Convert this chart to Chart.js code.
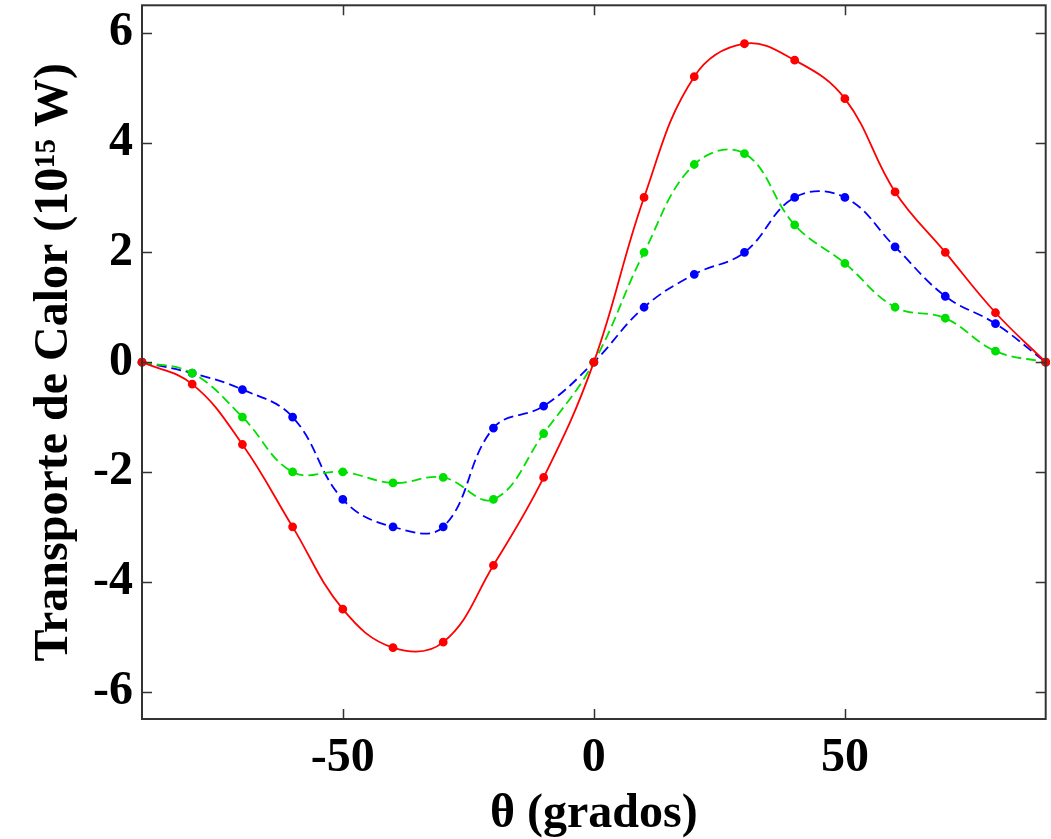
<!DOCTYPE html>
<html>
<head>
<meta charset="utf-8">
<script src="https://cdn.jsdelivr.net/npm/chart.js@4"></script>
<style>
  html, body { margin: 0; padding: 0; background: #fff; }
  #wrap { width: 1051px; height: 839px; }
</style>
</head>
<body>
<div id="wrap"><canvas id="myChart"></canvas></div>
<script>
// latitudes, every 10 degrees
const angulos = [-90, -80, -70, -60, -50, -40, -30, -20, -10, 0, 10, 20, 30, 40, 50, 60, 70, 80, 90];
const rojo  = [0, -0.4, -1.5, -3.0, -4.5, -5.2, -5.1, -3.7, -2.1, 0, 3.0, 5.2, 5.8, 5.5, 4.8, 3.1, 2.0, 0.9, 0];
const verde = [0, -0.2, -1.0, -2.0, -2.0, -2.2, -2.1, -2.5, -1.3, 0, 2.0, 3.6, 3.8, 2.5, 1.8, 1.0, 0.8, 0.2, 0];
const azul  = [0, -0.2, -0.5, -1.0, -2.5, -3.0, -3.0, -1.2, -0.8, 0, 1.0, 1.6, 2.0, 3.0, 3.0, 2.1, 1.2, 0.7, 0];

const xTicks = [-50, 0, 50];
const yTicks = [-6, -4, -2, 0, 2, 4, 6];

const serif = "'Liberation Serif', 'Times New Roman', serif";

function puntos(serie) {
    return angulos.map((a, i) => ({ x: a, y: serie[i] }));
}

function serie(datos, color, dash) {
    return {
        data: puntos(datos),
        borderColor: color,
        backgroundColor: color,
        pointBackgroundColor: color,
        pointBorderColor: color,
        pointRadius: 3.5,
        pointHoverRadius: 3.5,
        borderWidth: 1.8,
        borderDash: dash,
        tension: 0.4,
        clip: 8
    };
}

// MATLAB-style box with inward ticks on all four sides
const cajaPlugin = {
    id: 'caja',
    afterDraw(chart) {
        const { ctx, chartArea: a, scales } = chart;
        const len = 10;
        ctx.save();
        ctx.strokeStyle = '#333';
        ctx.lineWidth = 2;
        ctx.strokeRect(a.left, a.top, a.right - a.left, a.bottom - a.top);
        ctx.beginPath();
        xTicks.forEach(v => {
            const px = Math.round(scales.x.getPixelForValue(v)) + 0.5;
            ctx.moveTo(px, a.bottom); ctx.lineTo(px, a.bottom - len);
            ctx.moveTo(px, a.top); ctx.lineTo(px, a.top + len);
        });
        yTicks.forEach(v => {
            const py = Math.round(scales.y.getPixelForValue(v)) + 0.5;
            ctx.moveTo(a.left, py); ctx.lineTo(a.left + len, py);
            ctx.moveTo(a.right, py); ctx.lineTo(a.right - len, py);
        });
        ctx.lineWidth = 1.5;
        ctx.stroke();
        ctx.restore();
    }
};

const ctx = document.getElementById('myChart').getContext('2d');
const myChart = new Chart(ctx, {
    type: 'line',
    data: {
        datasets: [
            serie(rojo, '#ff0000', []),
            serie(verde, '#00e000', [10, 5]),
            serie(azul, '#0000ff', [10, 5])
        ]
    },
    options: {
        responsive: true,
        maintainAspectRatio: false,
        animation: false,
        events: [],
        layout: { padding: { top: 5, right: 5, left: 0, bottom: 0 } },
        plugins: {
            legend: { display: false },
            tooltip: { enabled: false }
        },
        scales: {
            x: {
                type: 'linear',
                min: -90,
                max: 90,
                afterBuildTicks: s => { s.ticks = xTicks.map(v => ({ value: v })); },
                afterFit: s => { s.height = 120; s.paddingLeft = 0; s.paddingRight = 0; },
                grid: { display: false, drawTicks: false },
                border: { display: false },
                ticks: {
                    color: '#000',
                    padding: 11,
                    font: { family: serif, size: 48, weight: 'bold' },
                    maxRotation: 0
                },
                title: {
                    display: true,
                    text: 'θ (grados)',
                    color: '#000',
                    font: { family: serif, size: 48, weight: 'bold', lineHeight: 1 },
                    padding: { top: 0, bottom: 0 }
                }
            },
            y: {
                type: 'linear',
                min: -6.5,
                max: 6.5,
                afterBuildTicks: s => { s.ticks = yTicks.map(v => ({ value: v })); },
                afterFit: s => { s.width = 142; s.paddingTop = 0; s.paddingBottom = 0; },
                grid: { display: false, drawTicks: false },
                border: { display: false },
                ticks: {
                    color: '#000',
                    padding: 9,
                    font: { family: serif, size: 48, weight: 'bold' }
                },
                title: {
                    display: true,
                    text: 'Transporte de Calor (10¹⁵ W)',
                    color: '#000',
                    font: { family: serif, size: 48, weight: 'bold', lineHeight: 1 },
                    padding: { top: 31, bottom: 0 }
                }
            }
        }
    },
    plugins: [cajaPlugin]
});
</script>
</body>
</html>
